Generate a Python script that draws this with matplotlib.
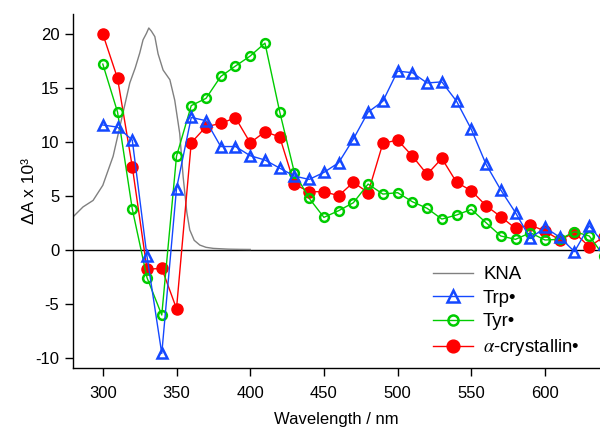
import matplotlib
matplotlib.use("Agg")
import matplotlib.pyplot as plt

plt.rcParams['font.family'] = ['Liberation Sans', 'DejaVu Sans']
plt.rcParams['mathtext.fontset'] = 'stix'
plt.rcParams['axes.unicode_minus'] = False

# KNA absorption trace (scaled), sampled along the curve
kna_wl = [280, 286.6, 293.4, 300, 307, 313, 318.3, 322, 325.1, 327.3, 329.6, 331.2,
          333, 335.3, 337.5, 340.9, 345.5, 348.8, 352.2, 354.5, 357, 359, 362,
          365.8, 370, 375, 385, 393, 400]
kna_val = [3.1, 4.0, 4.6, 6.0, 8.7, 12.3, 15.5, 16.9, 18.3, 19.5, 20.1, 20.6,
           20.3, 19.8, 18.2, 16.7, 15.8, 13.9, 10.8, 6.8, 3.5, 1.86, 0.9,
           0.46, 0.25, 0.15, 0.08, 0.06, 0.05]

# Transient difference spectra, 10 nm steps
wavelength = list(range(300, 641, 10))
trp = [11.6, 11.4, 10.2, -0.6, -9.6, 5.7, 12.3, 12.0, 9.6, 9.6, 8.75,
       8.35, 7.6, 6.86, 6.55, 7.2, 8.1, 10.3, 12.8, 13.8, 16.6, 16.45,
       15.5, 15.6, 13.8, 11.2, 7.95, 5.57, 3.46, 1.08, 2.1, 1.18, -0.15,
       2.25, 0.6]
tyr = [17.25, 12.8, 3.8, -2.57, -6.03, 8.7, 13.4, 14.07, 16.1, 17.07, 18.0,
       19.2, 12.83, 7.17, 4.8, 3.03, 3.65, 4.39, 6.12, 5.19, 5.32, 4.48,
       3.87, 2.87, 3.25, 3.77, 2.53, 1.3, 0.99, 1.6, 0.93, 0.99, 1.7,
       1.3, -0.56]
acry = [20.04, 15.93, 7.73, -1.79, -1.7, -5.44, 9.95, 11.44, 11.75, 12.27, 9.95,
        10.97, 10.5, 6.1, 5.41, 5.41, 5.04, 6.28, 5.32, 9.9, 10.2, 8.72,
        7.02, 8.5, 6.28, 5.5, 4.11, 3.09, 2.0, 2.32, 1.76, 0.93, 1.6,
        0.31, 1.23]

x_ticks = [300, 350, 400, 450, 500, 550, 600]
y_ticks = [-10, -5, 0, 5, 10, 15, 20]

blue = '#1448ff'
green = '#00cc00'
red = '#ff0000'
grey = '#808080'

fig = plt.figure(figsize=(6.0, 4.29), dpi=100)
ax = fig.add_axes([0.1222, 0.1429, 0.8778, 0.8245])

ax.axhline(0, color='black', lw=1.0, zorder=1)

h_kna, = ax.plot(kna_wl, kna_val, color=grey, lw=1.0, zorder=2, label='KNA')
h_acr, = ax.plot(wavelength, acry, color=red, lw=1.0, marker='o', ms=8,
                 mfc=red, mec=red, zorder=3, label=r'$\alpha$-crystallin•')
h_tyr, = ax.plot(wavelength, tyr, color=green, lw=1.0, marker='o', ms=6.3,
                 mfc='none', mec=green, mew=1.8, zorder=4, label='Tyr•')
h_trp, = ax.plot(wavelength, trp, color=blue, lw=1.0, marker='^', ms=7.8,
                 mfc='none', mec=blue, mew=1.8, zorder=5, label='Trp•')

ax.set_xlim(280, 637.3)
ax.set_ylim(-10.92, 21.9)
ax.set_xticks(x_ticks)
ax.set_yticks(y_ticks)
ax.tick_params(direction='out', length=6, width=1, labelsize=12)
ax.tick_params(axis='x', pad=7)
ax.tick_params(axis='y', pad=4)

for side in ('top', 'right'):
    ax.spines[side].set_visible(False)
for side in ('left', 'bottom'):
    ax.spines[side].set_linewidth(1.0)

ax.set_xlabel('Wavelength / nm', fontsize=12, labelpad=8)
ax.set_ylabel('ΔA x 10³', fontsize=12.5)
ax.yaxis.set_label_coords(-0.069, 0.5)

leg = ax.legend(handles=[h_kna, h_trp, h_tyr, h_acr], loc='upper left',
                bbox_to_anchor=(433 / 600, 1 - 266 / 429),
                bbox_transform=fig.transFigure, frameon=False, fontsize=13.4,
                handlelength=2.15, handletextpad=0.54, labelspacing=0.36,
                borderpad=0, borderaxespad=0, markerscale=1.15)

fig.savefig('out.png', dpi=100)
